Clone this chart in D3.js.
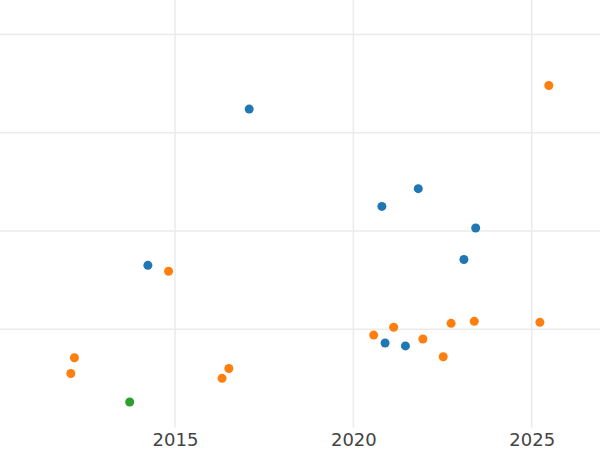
<!DOCTYPE html>
<html>
<head>
<meta charset="utf-8">
<script src="https://cdn.jsdelivr.net/npm/d3@7"></script>
<style>
  html, body { margin: 0; padding: 0; background: #fff; }
  svg { display: block; }
</style>
</head>
<body>
<svg id="chart" width="600" height="450"></svg>
<script>
// Data (y axis has no labels; values in grid units)
const seriesA = [ // blue
  [2017.08, 3.24], [2014.24, 1.65], [2020.80, 2.25], [2021.82, 2.43],
  [2023.43, 2.03], [2023.10, 1.71], [2020.89, 0.86], [2021.46, 0.83]
];
const seriesB = [ // orange
  [2025.48, 3.48], [2014.82, 1.59], [2012.18, 0.71], [2012.08, 0.55],
  [2016.51, 0.60], [2016.32, 0.50], [2020.57, 0.94], [2021.13, 1.02],
  [2021.95, 0.90], [2022.52, 0.72], [2022.74, 1.06], [2023.39, 1.08],
  [2025.23, 1.07]
];
const seriesC = [ // green
  [2013.73, 0.26]
];
const xTicks = [2015, 2020, 2025];
const yGrid = [1, 2, 3, 4];
const seriesColors = ["#1f77b4", "#ff7f0e", "#2ca02c"];

const svg = d3.select("#chart");
const W = 600, H = 450;
const plot = { left: 0, right: 600, top: 0, bottom: 427.5 };

const x = d3.scaleLinear().domain([2010.094, 2026.915]).range([plot.left, plot.right]);
const y = d3.scaleLinear().domain([0, 4.35]).range([plot.bottom, plot.top]);

// grid
const g = svg.append("g");
g.selectAll("line.h").data(yGrid).join("line")
  .attr("x1", plot.left).attr("x2", plot.right)
  .attr("y1", d => y(d)).attr("y2", d => y(d))
  .attr("stroke", "#ebebeb").attr("stroke-width", 1.5);
g.selectAll("line.v").data(xTicks).join("line")
  .attr("x1", d => x(d)).attr("x2", d => x(d))
  .attr("y1", plot.top).attr("y2", plot.bottom)
  .attr("stroke", "#ebebeb").attr("stroke-width", 1.5);

// x axis labels
const xAxis = d3.axisBottom(x).tickValues(xTicks).tickFormat(d3.format("d")).tickSize(0).tickPadding(6);
const ax = svg.append("g").attr("transform", `translate(0,${plot.bottom})`).call(xAxis);
ax.select(".domain").remove();
ax.selectAll("text")
  .attr("font-family", "DejaVu Sans, sans-serif")
  .attr("font-size", 18)
  .attr("fill", "#444");

// points
const all = [seriesA, seriesB, seriesC];
all.forEach((s, i) => {
  svg.append("g").selectAll("circle").data(s).join("circle")
    .attr("cx", d => x(d[0]))
    .attr("cy", d => y(d[1]))
    .attr("r", 4.5)
    .attr("fill", seriesColors[i]);
});
</script>
</body>
</html>
